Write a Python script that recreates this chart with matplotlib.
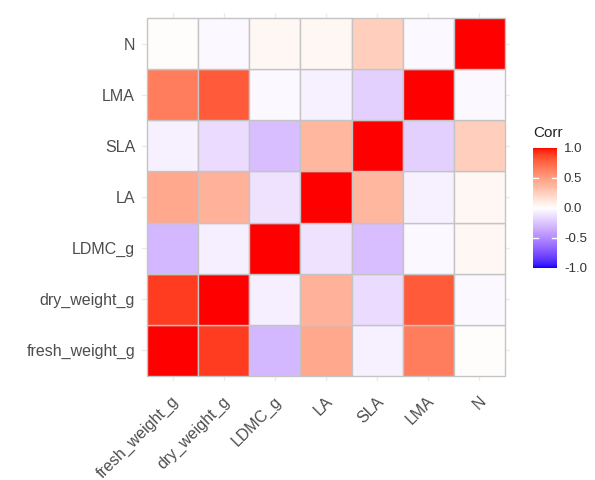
import numpy as np
import matplotlib
matplotlib.use("Agg")
import matplotlib.pyplot as plt
import matplotlib.transforms as mtransforms
from matplotlib.colors import ListedColormap, to_rgb
from matplotlib.patches import Rectangle

plt.rcParams["font.family"] = ["Liberation Sans", "DejaVu Sans"]

variables = ["fresh_weight_g", "dry_weight_g", "LDMC_g", "LA", "SLA", "LMA", "N"]

# upper triangle correlations (row i, col j>i)
pairs = {
    ("fresh_weight_g", "dry_weight_g"): 0.90,
    ("fresh_weight_g", "LDMC_g"): -0.30,
    ("fresh_weight_g", "LA"): 0.45,
    ("fresh_weight_g", "SLA"): -0.06,
    ("fresh_weight_g", "LMA"): 0.65,
    ("fresh_weight_g", "N"): 0.01,
    ("dry_weight_g", "LDMC_g"): -0.07,
    ("dry_weight_g", "LA"): 0.40,
    ("dry_weight_g", "SLA"): -0.15,
    ("dry_weight_g", "LMA"): 0.80,
    ("dry_weight_g", "N"): -0.03,
    ("LDMC_g", "LA"): -0.12,
    ("LDMC_g", "SLA"): -0.28,
    ("LDMC_g", "LMA"): -0.03,
    ("LDMC_g", "N"): 0.04,
    ("LA", "SLA"): 0.37,
    ("LA", "LMA"): -0.06,
    ("LA", "N"): 0.04,
    ("SLA", "LMA"): -0.20,
    ("SLA", "N"): 0.25,
    ("LMA", "N"): -0.03,
}

n = len(variables)
corr = np.eye(n)
for (a, b), v in pairs.items():
    i, j = variables.index(a), variables.index(b)
    corr[i, j] = corr[j, i] = v


# ggplot-like gradient2 (blue - white - red) interpolated in Lab space
def srgb_to_lab(rgb):
    rgb = np.asarray(rgb, float)
    lin = np.where(rgb <= 0.04045, rgb / 12.92, ((rgb + 0.055) / 1.055) ** 2.4)
    m = np.array([[0.4124, 0.3576, 0.1805],
                  [0.2126, 0.7152, 0.0722],
                  [0.0193, 0.1192, 0.9505]])
    xyz = m @ lin / np.array([0.95047, 1.0, 1.08883])
    f = np.where(xyz > 0.008856, np.cbrt(xyz), 7.787 * xyz + 16 / 116)
    return np.array([116 * f[1] - 16, 500 * (f[0] - f[1]), 200 * (f[1] - f[2])])


def lab_to_srgb(lab):
    L, a, b = lab
    fy = (L + 16) / 116
    fx = fy + a / 500
    fz = fy - b / 200
    f = np.array([fx, fy, fz])
    xyz = np.where(f ** 3 > 0.008856, f ** 3, (f - 16 / 116) / 7.787)
    xyz = xyz * np.array([0.95047, 1.0, 1.08883])
    m = np.array([[3.2406, -1.5372, -0.4986],
                  [-0.9689, 1.8758, 0.0415],
                  [0.0557, -0.2040, 1.0570]])
    lin = m @ xyz
    rgb = np.where(lin <= 0.0031308, 12.92 * lin, 1.055 * np.clip(lin, 0, None) ** (1 / 2.4) - 0.055)
    return np.clip(rgb, 0, 1)


lab_lo, lab_mid, lab_hi = (srgb_to_lab(to_rgb(c)) for c in ("blue", "white", "red"))
cols = []
for t in np.linspace(-1, 1, 256):
    if t < 0:
        lab = lab_mid + (lab_lo - lab_mid) * (-t)
    else:
        lab = lab_mid + (lab_hi - lab_mid) * t
    cols.append(lab_to_srgb(lab))
cmap = ListedColormap(cols)

fig = plt.figure(figsize=(5.95, 4.8), dpi=100)
W, H = 595, 480
ext = 0.1
cell = 51.1
span = (n + 2 * ext) * cell
ax = fig.add_axes([142 / W, (480 - 381) / H, span / W, span / H])

for k in range(n):
    ax.axhline(k, color="#EBEBEB", lw=1.0, zorder=0)
    ax.axvline(k, color="#EBEBEB", lw=1.0, zorder=0)

for i in range(n):
    for j in range(n):
        ax.add_patch(Rectangle((j - 0.5, i - 0.5), 1, 1,
                               facecolor=cmap((corr[i, j] + 1) / 2),
                               edgecolor="#C4C4C4", lw=1.0, zorder=2))

ax.set_xlim(-0.5 - ext, n - 0.5 + ext)
ax.set_ylim(-0.5 - ext, n - 0.5 + ext)
for s in ax.spines.values():
    s.set_visible(False)
ax.set_xticks(range(n))
ax.set_yticks(range(n))
ax.set_xticklabels(variables, rotation=45, ha="right", va="center",
                   rotation_mode="anchor", fontsize=11.5, color="#4D4D4D")
ax.set_yticklabels(variables, fontsize=11.5, color="#4D4D4D")
ax.tick_params(axis="x", length=0, pad=13)
ax.tick_params(axis="y", length=0, pad=5)
shift = mtransforms.ScaledTranslation(4 / 100, 0, fig.dpi_scale_trans)
for lab in ax.get_xticklabels():
    lab.set_transform(lab.get_transform() + shift)

# colour bar legend
cax = fig.add_axes([533 / W, (480 - 268) / H, 24 / W, 120 / H])
grad = np.linspace(-1, 1, 256).reshape(-1, 1)
cax.imshow(grad, aspect="auto", cmap=cmap, origin="lower", extent=[0, 1, -1, 1])
for v in (-0.5, 0, 0.5):
    cax.plot([0, 0.2], [v, v], color="white", lw=1)
    cax.plot([0.8, 1], [v, v], color="white", lw=1)
cax.set_xlim(0, 1)
cax.set_ylim(-1, 1)
cax.set_xticks([])
cax.yaxis.tick_right()
cax.set_yticks([-1, -0.5, 0, 0.5, 1])
cax.set_yticklabels(["-1.0", "-0.5", "0.0", "0.5", "1.0"], fontsize=9.5, color="#333333")
cax.tick_params(length=0, pad=5)
for s in cax.spines.values():
    s.set_visible(False)
fig.text(533 / W, 1 - 133 / H, "Corr", fontsize=11, color="#222222", va="center")

fig.savefig("out.png", dpi=100)
